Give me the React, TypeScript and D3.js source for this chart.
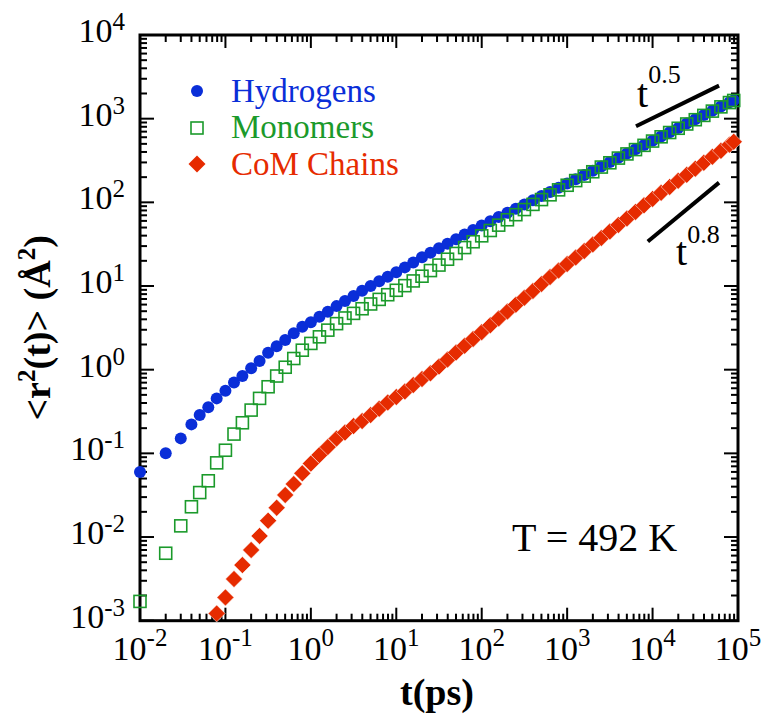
import React, { useEffect, useRef } from 'react';
import * as d3 from 'd3';

// time grid (ps) shared by all three series
const TIMES = [
  0.01, 0.02, 0.03, 0.04, 0.05, 0.063, 0.079,
  0.1, 0.126, 0.158, 0.2, 0.251, 0.316, 0.398, 0.501, 0.631, 0.794,
  1, 1.26, 1.58, 2, 2.51, 3.16, 3.98, 5.01, 6.31, 7.94,
  10, 12.6, 15.8, 20, 25.1, 31.6, 39.8, 50.1, 63.1, 79.4,
  100, 126, 158, 200, 251, 316, 398, 501, 631, 794,
  1000, 1259, 1585, 1995, 2512, 3162, 3981, 5012, 6310, 7943,
  10000, 12589, 15849, 19953, 25119, 31623, 39811, 50119, 63096, 79433, 89125
];

const HYDROGENS = [
  0.06, 0.1, 0.151, 0.222, 0.287, 0.355, 0.454,
  0.56, 0.705, 0.84, 1.04, 1.27, 1.59, 1.91, 2.26, 2.72, 3.26,
  3.68, 4.29, 4.92, 5.75, 6.6, 7.6, 8.8, 10.0, 11.4, 12.9,
  14.6, 16.7, 19.1, 22.0, 24.9, 28.2, 32.0, 36.3, 41.2, 46.7,
  53, 59.5, 66.8, 74.9, 84, 94.3, 105.8, 118.7, 133, 149.4,
  167.6, 189, 212.5, 239, 269, 303, 341, 383, 431, 485,
  545, 613, 690, 776, 873, 982, 1105, 1243, 1398, 1573, 1663
];

const MONOMERS = [
  0.0017, 0.0064, 0.0136, 0.023, 0.034, 0.047, 0.077,
  0.109, 0.17, 0.232, 0.329, 0.454, 0.625, 0.84, 1.07, 1.36, 1.71,
  2.06, 2.47, 2.97, 3.55, 4.15, 4.71, 5.35, 6.1, 6.92, 7.87,
  8.89, 10.1, 11.5, 13.1, 15.3, 17.8, 20.9, 24.5, 28.8, 33.8,
  39.8, 46.1, 53.4, 61.9, 71.2, 82, 94.5, 107.9, 123, 141,
  160, 182, 206, 232, 264, 297, 338, 379, 427, 480,
  540, 607, 683, 768, 864, 972, 1094, 1231, 1384, 1557, 1650
];

const COM_CHAINS = [
  null, null, null, null, null, null, 0.00122,
  0.0019, 0.00315, 0.00462, 0.007, 0.0103, 0.0157, 0.0224, 0.0318, 0.043, 0.0577,
  0.0755, 0.0955, 0.119, 0.15, 0.177, 0.212, 0.243, 0.287, 0.341, 0.405,
  0.471, 0.55, 0.655, 0.773, 0.904, 1.09, 1.32, 1.6, 1.93, 2.33,
  2.81, 3.4, 4.1, 4.96, 5.99, 7.24, 8.74, 10.6, 12.8, 15.3,
  18.3, 21.9, 26.2, 31.4, 37.5, 44.9, 53.7, 64.3, 76.9, 92,
  110, 130, 153, 181, 213, 252, 297, 350, 413, 488, 530
];

const X_EXPONENTS = ['-2', '-1', '0', '1', '2', '3', '4', '5'];
const Y_EXPONENTS = ['-3', '-2', '-1', '0', '1', '2', '3', '4'];

// power-law guide lines [t, msd]
const GUIDE_05 = [[6400, 810], [60000, 2480]];
const GUIDE_08 = [[8800, 34], [60000, 172]];

const BLUE = '#0a2ed8';
const GREEN = '#1b9a2b';
const RED = '#e62b00';
const FONT = '"Liberation Serif", "Times New Roman", Times, serif';

export default function App() {
  const ref = useRef<SVGSVGElement>(null);

  useEffect(() => {
    const svg = d3.select(ref.current);
    svg.selectAll('*').remove();

    const x = d3.scaleLog().domain([1e-2, 1e5]).range([140, 738]);
    const y = d3.scaleLog().domain([1e-3, 1e4]).range([620.7, 35]);
    const [left, right] = x.range();
    const [bottom, top] = y.range();

    const isMajor = (v: number) => Math.abs(Math.log10(v) - Math.round(Math.log10(v))) < 1e-6;

    // ticks on all four sides, pointing inward
    const ticks = svg.append('g').attr('stroke', '#000').attr('stroke-width', 2);
    x.ticks().forEach(v => {
      const len = isMajor(v) ? 13 : 7;
      ticks.append('line').attr('x1', x(v)).attr('x2', x(v)).attr('y1', bottom).attr('y2', bottom - len);
      ticks.append('line').attr('x1', x(v)).attr('x2', x(v)).attr('y1', top).attr('y2', top + len);
    });
    y.ticks().forEach(v => {
      const len = isMajor(v) ? 14 : 7;
      ticks.append('line').attr('x1', left).attr('x2', left + len).attr('y1', y(v)).attr('y2', y(v));
      ticks.append('line').attr('x1', right).attr('x2', right - len).attr('y1', y(v)).attr('y2', y(v));
    });

    svg.append('rect')
      .attr('x', left).attr('y', top)
      .attr('width', right - left).attr('height', bottom - top)
      .attr('fill', 'none').attr('stroke', '#000').attr('stroke-width', 3);

    // tick labels
    const xl = svg.append('g').attr('font-family', FONT).attr('font-size', 34).attr('fill', '#000');
    X_EXPONENTS.forEach(e => {
      const t = xl.append('text').attr('x', x(Math.pow(10, +e))).attr('y', 660).attr('text-anchor', 'middle');
      t.append('tspan').text('10');
      t.append('tspan').attr('font-size', 25).attr('dy', -14).text(e);
    });
    const yl = svg.append('g').attr('font-family', FONT).attr('font-size', 34).attr('fill', '#000');
    Y_EXPONENTS.forEach(e => {
      const t = yl.append('text').attr('x', 125).attr('y', y(Math.pow(10, +e)) + 7).attr('text-anchor', 'end');
      t.append('tspan').text('10');
      t.append('tspan').attr('font-size', 25).attr('dy', -12).text(e);
    });

    // axis titles
    svg.append('text')
      .attr('x', 437).attr('y', 705)
      .attr('text-anchor', 'middle')
      .attr('font-family', FONT).attr('font-weight', 'bold').attr('font-size', 38)
      .text('t(ps)');

    const yt = svg.append('text')
      .attr('transform', `translate(50, ${(top + bottom) / 2}) rotate(-90)`)
      .attr('text-anchor', 'middle')
      .attr('font-family', FONT).attr('font-weight', 'bold').attr('font-size', 38);
    yt.append('tspan').text('<r');
    yt.append('tspan').attr('font-size', 25).attr('dy', -15).text('2');
    yt.append('tspan').attr('dy', 15).text('(t)> (Å');
    yt.append('tspan').attr('font-size', 25).attr('dy', -15).text('2');
    yt.append('tspan').attr('dy', 15).text(')');

    // data
    const pts = (vals: (number | null)[]) =>
      TIMES.map((t, i) => ({ t, v: vals[i] })).filter(d => d.v != null) as { t: number; v: number }[];

    const diamond = (cx: number, cy: number, r: number) =>
      `M${cx},${cy - r}L${cx + r},${cy}L${cx},${cy + r}L${cx - r},${cy}Z`;

    svg.append('g').selectAll('circle')
      .data(pts(HYDROGENS))
      .join('circle')
      .attr('cx', d => x(d.t)).attr('cy', d => y(d.v))
      .attr('r', 6).attr('fill', BLUE);

    svg.append('g').selectAll('rect')
      .data(pts(MONOMERS))
      .join('rect')
      .attr('x', d => x(d.t) - 6).attr('y', d => y(d.v) - 6)
      .attr('width', 12).attr('height', 12)
      .attr('fill', 'none').attr('stroke', GREEN).attr('stroke-width', 1.6);

    svg.append('g').selectAll('path')
      .data(pts(COM_CHAINS))
      .join('path')
      .attr('d', d => diamond(x(d.t), y(d.v), 8.5))
      .attr('fill', RED).attr('stroke', '#fff').attr('stroke-width', 0.5);

    // guide lines
    [GUIDE_05, GUIDE_08].forEach(g => {
      svg.append('line')
        .attr('x1', x(g[0][0])).attr('y1', y(g[0][1]))
        .attr('x2', x(g[1][0])).attr('y2', y(g[1][1]))
        .attr('stroke', '#000').attr('stroke-width', 4);
    });

    const g5 = svg.append('text').attr('x', 637).attr('y', 107).attr('font-family', FONT).attr('font-size', 40);
    g5.append('tspan').text('t');
    g5.append('tspan').attr('font-size', 26).attr('dy', -24).text('0.5');
    const g8 = svg.append('text').attr('x', 676).attr('y', 265).attr('font-family', FONT).attr('font-size', 40);
    g8.append('tspan').text('t');
    g8.append('tspan').attr('font-size', 26).attr('dy', -22).text('0.8');

    svg.append('text')
      .attr('x', 512).attr('y', 551)
      .attr('font-family', FONT).attr('font-size', 40)
      .text('T = 492 K');

    // legend
    const legend = svg.append('g').attr('font-family', FONT).attr('font-size', 33);
    legend.append('circle').attr('cx', 197).attr('cy', 91).attr('r', 6).attr('fill', BLUE);
    legend.append('rect').attr('x', 191).attr('y', 122).attr('width', 12).attr('height', 12)
      .attr('fill', 'none').attr('stroke', GREEN).attr('stroke-width', 1.6);
    legend.append('path').attr('d', diamond(197, 164, 8.5)).attr('fill', RED);
    legend.append('text').attr('x', 231).attr('y', 101.5).attr('fill', BLUE).text('Hydrogens');
    legend.append('text').attr('x', 231).attr('y', 138).attr('fill', GREEN).text('Monomers');
    legend.append('text').attr('x', 231).attr('y', 174.5).attr('fill', RED).text('CoM Chains');
  }, []);

  return (
    <svg
      ref={ref}
      width={764}
      height={719}
      style={{ position: 'absolute', left: 0, top: 0, background: '#fff' }}
    />
  );
}
